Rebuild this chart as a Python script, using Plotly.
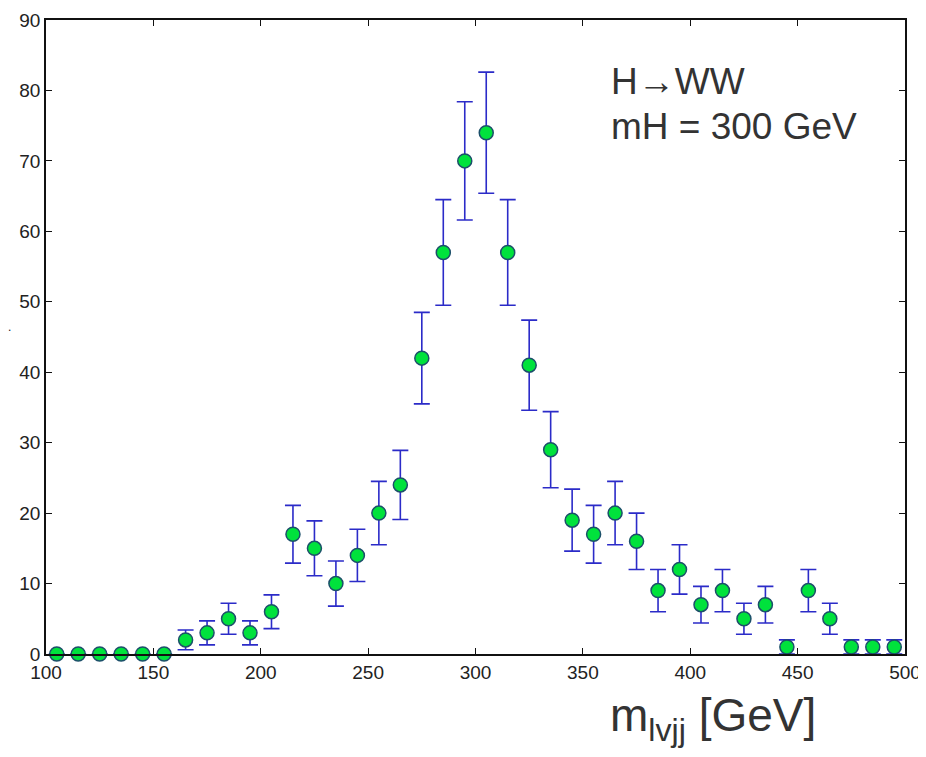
import plotly.graph_objects as go

# bin centres (GeV)
mass = [105, 115, 125, 135, 145, 155, 165, 175, 185, 195,
        205, 215, 225, 235, 245, 255, 265, 275, 285, 295,
        305, 315, 325, 335, 345, 355, 365, 375, 385, 395,
        405, 415, 425, 435, 445, 455, 465, 475, 485, 495]
counts = [0, 0, 0, 0, 0, 0, 2, 3, 5, 3,
          6, 17, 15, 10, 14, 20, 24, 42, 57, 70,
          74, 57, 41, 29, 19, 17, 20, 16, 9, 12,
          7, 9, 5, 7, 1, 9, 5, 1, 1, 1]
errors = [0, 0, 0, 0, 0, 0, 1.4, 1.7, 2.2, 1.7,
          2.4, 4.1, 3.9, 3.2, 3.7, 4.5, 4.9, 6.5, 7.5, 8.4,
          8.6, 7.5, 6.4, 5.4, 4.4, 4.1, 4.5, 4.0, 3.0, 3.5,
          2.6, 3.0, 2.2, 2.6, 1.0, 3.0, 2.2, 1.0, 1.0, 1.0]
x_ticks = [100, 150, 200, 250, 300, 350, 400, 450, 500]
y_ticks = [0, 10, 20, 30, 40, 50, 60, 70, 80, 90]

fig = go.Figure()
fig.add_trace(go.Scatter(
    x=mass, y=counts, mode="markers",
    error_y=dict(type="data", array=errors, visible=True,
                 color="#2b2bc8", thickness=1.6, width=8),
    marker=dict(size=14, color="#00e23c", line=dict(color="#1c4f6a", width=1.5)),
    cliponaxis=False, showlegend=False,
))

axis_common = dict(
    showgrid=False, zeroline=False, showline=True, linecolor="#111111", linewidth=1.5,
    mirror="ticks", ticks="inside", ticklen=6, tickwidth=1.3, tickcolor="#111111",
    automargin=False, ticklabeloverflow="allow",
    tickfont=dict(family="Liberation Sans, Arial, sans-serif", size=19, color="#222222"),
)

# page body adds an 8px offset, so the figure is sized to fit the 926x757 window
fig.update_layout(
    width=918, height=741,
    margin=dict(l=38, r=21, t=12, b=95),
    paper_bgcolor="white", plot_bgcolor="white",
    xaxis=dict(range=[100, 500], tickvals=x_ticks, ticktext=[str(v) for v in x_ticks], **axis_common),
    yaxis=dict(range=[0, 90], tickvals=y_ticks, ticktext=[str(v) for v in y_ticks], **axis_common),
    annotations=[
        dict(text="H\u2192WW", x=0.655, y=0.867, xref="paper", yref="paper",
             xanchor="left", yanchor="bottom", showarrow=False,
             font=dict(family="Liberation Sans, Arial, sans-serif", size=37, color="#333333")),
        dict(text="mH = 300 GeV", x=0.655, y=0.796, xref="paper", yref="paper",
             xanchor="left", yanchor="bottom", showarrow=False,
             font=dict(family="Liberation Sans, Arial, sans-serif", size=37, color="#333333")),
        dict(text="m<sub>lvjj</sub> [GeV]", x=0.654, y=-0.102, xref="paper", yref="paper",
             xanchor="left", yanchor="middle", showarrow=False,
             font=dict(family="Liberation Sans, Arial, sans-serif", size=46, color="#333333")),
        dict(text=".", x=-0.042, y=0.515, xref="paper", yref="paper", showarrow=False,
             xanchor="center", yanchor="middle",
             font=dict(family="Liberation Sans, Arial, sans-serif", size=12, color="#222222")),
    ],
)

fig.write_html("out.html")
